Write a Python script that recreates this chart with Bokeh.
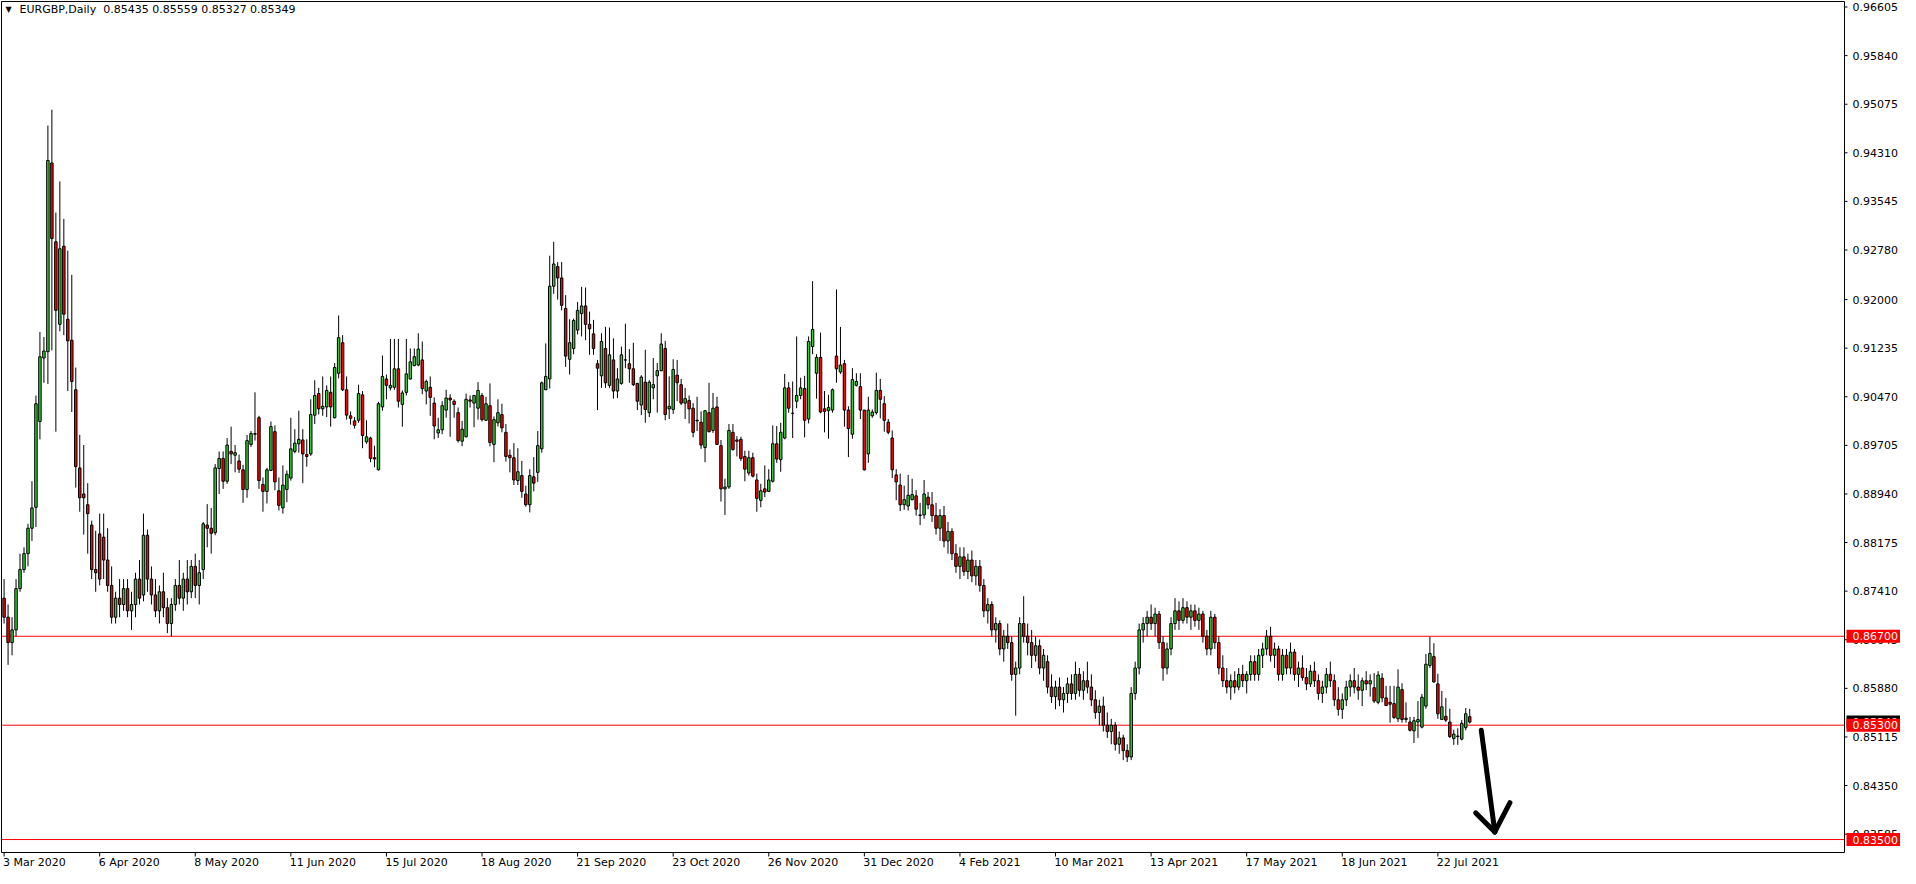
import numpy as np
from bokeh.plotting import figure
from bokeh.models import Range1d, ColumnDataSource
from bokeh.core.properties import value
from bokeh.embed import file_html
from bokeh.resources import INLINE

SYMBOL = "EURGBP,Daily"
HEADER_VALUES = "0.85435 0.85559 0.85327 0.85349"

# Daily candles from 3 Mar 2020 (bar 0) to 3 Aug 2021 (bar 368), prices x 10000
OPEN = [
    8730, 8700, 8660, 8680, 8745, 8775, 8800, 8840, 8873, 9008,
    9108, 9118, 9415, 9291, 9161, 9284, 9169, 9136, 9058, 8935,
    8894, 8877, 8845, 8775, 8831, 8826, 8790, 8750, 8700, 8730,
    8720, 8745, 8710, 8720, 8760, 8735, 8829, 8760, 8735, 8710,
    8740, 8715, 8690, 8720, 8750, 8730, 8760, 8740, 8780, 8750,
    8775, 8845, 8840, 8833, 8934, 8950, 8914, 8961, 8955, 8946,
    8932, 8901, 8972, 8988, 9014, 8909, 8898, 8931, 8992, 8899,
    8872, 8901, 8919, 8961, 8973, 8979, 8956, 8957, 9018, 9052,
    9028, 9031, 9054, 9014, 9084, 9132, 9058, 9017, 9009, 9010,
    9050, 8976, 8982, 8951, 8932, 9031, 9075, 9061, 9062, 9091,
    9035, 9054, 9075, 9096, 9097, 9105, 9056, 9062, 9037, 8990,
    8995, 9026, 9045, 9040, 9022, 8977, 8984, 9042, 9037, 9029,
    9049, 9010, 9033, 8972, 9006, 9019, 8991, 8955, 8951, 8915,
    8923, 8894, 8877, 8921, 8928, 8965, 9058, 9075, 9221, 9252,
    9234, 9186, 9106, 9123, 9152, 9178, 9190, 9161, 9146, 9099,
    9080, 9123, 9065, 9105, 9056, 9068, 9105, 9099, 9091, 9068,
    9034, 9070, 9022, 9061, 9080, 9088, 9123, 9028, 9027, 9081,
    9066, 9037, 9041, 9029, 9010, 9007, 8967, 9022, 8994, 9031,
    8970, 8902, 8905, 8991, 8979, 8980, 8953, 8927, 8951, 8916,
    8884, 8902, 8898, 8914, 8973, 8948, 8982, 9061, 9021, 9040,
    9049, 9060, 9012, 9126, 9084, 9109, 9028, 9025, 9026, 9111,
    9086, 9099, 9026, 8988, 9065, 9063, 9026, 8957, 9017, 9022,
    9057, 9036, 9007, 8982, 8924, 8908, 8877, 8875, 8885, 8891,
    8860, 8861, 8889, 8877, 8860, 8840, 8860, 8820, 8835, 8800,
    8780, 8795, 8772, 8790, 8765, 8780, 8750, 8710, 8720, 8680,
    8690, 8650, 8670, 8660, 8610, 8620, 8690, 8670, 8660, 8640,
    8655, 8620, 8630, 8590, 8575, 8590, 8570, 8580, 8595, 8580,
    8610, 8585, 8600, 8590, 8570, 8550, 8560, 8530, 8520, 8530,
    8500, 8510, 8490, 8480, 8580, 8620, 8680, 8690, 8700, 8690,
    8705, 8660, 8620, 8650, 8690, 8710, 8695, 8715, 8700, 8710,
    8695, 8705, 8670, 8650, 8700, 8660, 8620, 8600, 8590, 8600,
    8590, 8610, 8600, 8610, 8630, 8610, 8640, 8650, 8670, 8640,
    8650, 8610, 8640, 8620, 8645, 8610, 8620, 8605, 8595, 8615,
    8600, 8580, 8590, 8610, 8600, 8570, 8555, 8570, 8590, 8600,
    8590, 8585, 8600, 8595, 8589, 8566, 8604, 8573, 8566, 8564,
    8540, 8586, 8539, 8535, 8521, 8535, 8527, 8560, 8624, 8638,
    8595, 8539, 8544, 8535, 8509, 8513, 8508, 8526, 8543.5,
]
HIGH = [
    8760, 8720, 8700, 8760, 8800, 8810, 8847, 8914, 9049, 9149,
    9141, 9474, 9499, 9337, 9386, 9327, 9277, 9239, 9093, 8987,
    8971, 8911, 8852, 8836, 8863, 8863, 8840, 8780, 8740, 8760,
    8760, 8760, 8740, 8770, 8790, 8863, 8838, 8780, 8760, 8750,
    8770, 8730, 8730, 8760, 8790, 8770, 8790, 8790, 8800, 8790,
    8850, 8878, 8872, 8941, 8961, 8961, 8982, 9000, 8971, 8956,
    8940, 8987, 8993, 9054, 9017, 8920, 8935, 9008, 9002, 8920,
    8939, 8931, 9014, 8996, 9025, 8996, 8980, 9043, 9073, 9061,
    9079, 9065, 9079, 9100, 9175, 9144, 9079, 9024, 9015, 9066,
    9056, 9010, 8984, 8970, 9039, 9112, 9082, 9138, 9138, 9138,
    9057, 9138, 9123, 9123, 9147, 9134, 9074, 9079, 9046, 9014,
    9040, 9058, 9051, 9043, 9030, 9009, 9052, 9049, 9050, 9070,
    9053, 9047, 9068, 9016, 9043, 9036, 9004, 8964, 8974, 8966,
    8946, 8907, 8933, 8952, 8993, 9071, 9131, 9269, 9291, 9259,
    9259, 9207, 9169, 9170, 9196, 9220, 9219, 9181, 9168, 9105,
    9147, 9157, 9156, 9139, 9092, 9126, 9162, 9122, 9132, 9069,
    9081, 9121, 9073, 9108, 9100, 9147, 9135, 9079, 9106, 9105,
    9075, 9061, 9049, 9037, 9047, 9024, 9026, 9069, 9053, 9047,
    8979, 8918, 9004, 9004, 8985, 8984, 8962, 8962, 8959, 8926,
    8910, 8939, 8933, 9002, 9001, 9006, 9083, 9070, 9071, 9142,
    9077, 9080, 9142, 9229, 9114, 9148, 9056, 9050, 9060, 9216,
    9157, 9105, 9032, 9092, 9084, 9084, 9026, 9047, 9027, 9085,
    9075, 9048, 9012, 8994, 8933, 8926, 8907, 8924, 8918, 8900,
    8880, 8916, 8897, 8897, 8880, 8870, 8875, 8850, 8840, 8815,
    8810, 8810, 8800, 8805, 8790, 8790, 8760, 8730, 8725, 8700,
    8695, 8680, 8690, 8670, 8630, 8700, 8733, 8690, 8680, 8670,
    8665, 8650, 8640, 8610, 8600, 8605, 8590, 8605, 8610, 8630,
    8620, 8615, 8630, 8610, 8585, 8570, 8575, 8550, 8540, 8535,
    8520, 8515, 8500, 8590, 8630, 8690, 8700, 8710, 8720, 8715,
    8710, 8670, 8660, 8700, 8730, 8725, 8730, 8725, 8720, 8720,
    8715, 8710, 8680, 8710, 8705, 8670, 8640, 8620, 8610, 8615,
    8620, 8625, 8615, 8640, 8640, 8650, 8660, 8680, 8685, 8660,
    8655, 8650, 8650, 8660, 8650, 8630, 8640, 8620, 8625, 8630,
    8610, 8600, 8620, 8630, 8610, 8590, 8580, 8600, 8610, 8620,
    8610, 8605, 8615, 8610, 8612, 8615, 8612, 8592, 8592, 8592,
    8618, 8596, 8566, 8543, 8543, 8568, 8579, 8642, 8669, 8659,
    8611, 8584, 8573, 8556, 8523, 8525, 8538, 8557, 8555.9,
]
LOW = [
    8690, 8625, 8640, 8670, 8740, 8770, 8780, 8820, 8842, 8980,
    9069, 9067, 9120, 8992, 9150, 9144, 9056, 9023, 8904, 8866,
    8830, 8800, 8760, 8740, 8750, 8760, 8740, 8690, 8690, 8700,
    8710, 8700, 8680, 8700, 8720, 8725, 8740, 8720, 8700, 8690,
    8700, 8675, 8670, 8710, 8720, 8710, 8720, 8730, 8730, 8720,
    8760, 8810, 8800, 8829, 8894, 8902, 8910, 8941, 8928, 8927,
    8880, 8888, 8968, 8978, 8902, 8866, 8879, 8930, 8900, 8868,
    8863, 8881, 8915, 8958, 8959, 8911, 8937, 8954, 9004, 9019,
    9017, 9015, 9000, 9013, 9076, 9056, 9011, 9003, 8997, 9006,
    8966, 8973, 8944, 8936, 8931, 9025, 9043, 9057, 9058, 9030,
    9000, 9049, 9074, 9095, 9095, 9051, 9035, 9017, 8980, 8982,
    8988, 9014, 8984, 9014, 8975, 8969, 8983, 9030, 8999, 9011,
    9008, 9009, 8969, 8944, 9000, 8991, 8945, 8928, 8908, 8908,
    8888, 8874, 8865, 8898, 8913, 8959, 9058, 9060, 9209, 9200,
    9183, 9094, 9082, 9114, 9145, 9142, 9136, 9113, 9113, 9026,
    9061, 9061, 9061, 9044, 9045, 9066, 9092, 9069, 9064, 9026,
    9018, 9006, 9015, 9043, 9022, 9087, 9010, 9012, 9020, 9040,
    9034, 9012, 9005, 8983, 8993, 8965, 8944, 8991, 8990, 8972,
    8882, 8861, 8902, 8962, 8953, 8946, 8914, 8923, 8920, 8866,
    8873, 8889, 8897, 8912, 8943, 8929, 8980, 9022, 8982, 9029,
    9043, 8983, 9005, 9114, 9044, 9021, 8991, 8981, 9022, 9069,
    9083, 9000, 8952, 8981, 9063, 9012, 8931, 8943, 9014, 9019,
    9013, 8992, 8988, 8919, 8884, 8867, 8869, 8868, 8884, 8860,
    8845, 8855, 8870, 8850, 8830, 8820, 8810, 8800, 8790, 8770,
    8760, 8765, 8760, 8755, 8750, 8740, 8700, 8690, 8670, 8660,
    8640, 8630, 8650, 8600, 8545, 8610, 8660, 8640, 8620, 8630,
    8610, 8600, 8580, 8565, 8555, 8560, 8550, 8565, 8570, 8570,
    8575, 8570, 8580, 8560, 8540, 8530, 8520, 8510, 8500, 8490,
    8485, 8475, 8472, 8475, 8570, 8610, 8660, 8670, 8680, 8670,
    8650, 8600, 8610, 8640, 8680, 8680, 8690, 8690, 8680, 8685,
    8680, 8660, 8640, 8640, 8650, 8610, 8590, 8580, 8570, 8580,
    8585, 8590, 8580, 8600, 8600, 8600, 8620, 8640, 8630, 8620,
    8600, 8600, 8610, 8610, 8600, 8590, 8600, 8585, 8590, 8590,
    8570, 8565, 8580, 8590, 8560, 8545, 8540, 8560, 8575, 8580,
    8570, 8560, 8585, 8575, 8565, 8563, 8566, 8560, 8534, 8540,
    8535, 8534, 8534, 8520, 8502, 8510, 8525, 8556, 8620, 8597,
    8540, 8538, 8535, 8510, 8499, 8499, 8506, 8522, 8532.7,
]
CLOSE = [
    8700, 8660, 8680, 8745, 8775, 8800, 8840, 8872, 9036, 9110,
    9119, 9419, 9296, 9183, 9280, 9177, 9135, 9071, 8937, 8888,
    8888, 8863, 8775, 8770, 8760, 8790, 8750, 8700, 8730, 8720,
    8745, 8710, 8720, 8760, 8730, 8829, 8760, 8735, 8710, 8740,
    8715, 8690, 8720, 8750, 8730, 8760, 8740, 8780, 8750, 8770,
    8847, 8840, 8832, 8935, 8950, 8914, 8971, 8957, 8959, 8933,
    8901, 8978, 8989, 8989, 8915, 8898, 8932, 9000, 8913, 8876,
    8908, 8925, 8965, 8974, 8980, 8957, 8953, 9019, 9049, 9028,
    9032, 9057, 9031, 9093, 9140, 9058, 9018, 9013, 9002, 9052,
    8986, 8984, 8950, 8949, 9036, 9079, 9065, 9065, 9091, 9040,
    9053, 9083, 9102, 9110, 9122, 9060, 9071, 9046, 9001, 8995,
    9033, 9045, 9042, 9035, 8978, 8996, 9043, 9040, 9049, 9057,
    9011, 9036, 8975, 9011, 9022, 8998, 8953, 8951, 8916, 8929,
    8898, 8877, 8923, 8911, 8970, 9069, 9079, 9221, 9256, 9234,
    9191, 9111, 9132, 9167, 9183, 9190, 9161, 9154, 9123, 9092,
    9134, 9069, 9113, 9056, 9075, 9113, 9105, 9091, 9066, 9040,
    9078, 9027, 9070, 9066, 9088, 9130, 9019, 9032, 9090, 9069,
    9037, 9044, 9028, 8991, 9009, 8971, 9025, 8992, 9029, 8972,
    8902, 8905, 8994, 8964, 8977, 8950, 8933, 8951, 8922, 8887,
    8899, 8897, 8916, 8973, 8949, 8991, 9061, 9029, 9021, 9049,
    9061, 9010, 9134, 9153, 9109, 9023, 9024, 9030, 9058, 9091,
    9097, 9026, 8997, 9074, 9071, 9026, 8932, 9026, 9023, 9057,
    9043, 9010, 8991, 8932, 8913, 8877, 8885, 8892, 8893, 8870,
    8861, 8894, 8877, 8860, 8840, 8860, 8820, 8835, 8800, 8780,
    8795, 8772, 8790, 8765, 8780, 8750, 8710, 8720, 8680, 8690,
    8650, 8670, 8660, 8610, 8620, 8690, 8670, 8660, 8640, 8655,
    8620, 8640, 8590, 8575, 8590, 8570, 8580, 8595, 8580, 8610,
    8585, 8600, 8590, 8570, 8550, 8560, 8530, 8520, 8530, 8500,
    8510, 8490, 8480, 8580, 8620, 8680, 8690, 8700, 8690, 8705,
    8660, 8620, 8650, 8690, 8710, 8695, 8715, 8700, 8710, 8695,
    8705, 8670, 8650, 8700, 8660, 8620, 8600, 8590, 8600, 8590,
    8610, 8600, 8610, 8630, 8610, 8640, 8650, 8670, 8640, 8650,
    8610, 8640, 8620, 8645, 8610, 8620, 8605, 8595, 8615, 8600,
    8580, 8590, 8610, 8600, 8570, 8555, 8570, 8590, 8600, 8590,
    8585, 8600, 8595, 8600, 8568, 8609, 8573, 8561, 8563, 8542,
    8590, 8539, 8541, 8522, 8537, 8539, 8574, 8626, 8643, 8598,
    8548, 8559, 8538, 8512, 8516, 8512, 8533, 8548, 8534.9,
]

DATE_TICK_BARS = [0, 24, 48, 72, 96, 120, 144, 168, 192, 216, 240, 264, 288, 312, 336, 360]
DATE_LABELS = ["3 Mar 2020", "6 Apr 2020", "8 May 2020", "11 Jun 2020", "15 Jul 2020",
               "18 Aug 2020", "21 Sep 2020", "23 Oct 2020", "26 Nov 2020", "31 Dec 2020",
               "4 Feb 2021", "10 Mar 2021", "13 Apr 2021", "17 May 2021", "18 Jun 2021",
               "22 Jul 2021"]
PRICE_TICKS = [0.96605, 0.95840, 0.95075, 0.94310, 0.93545, 0.92780, 0.92000, 0.91235,
               0.90470, 0.89705, 0.88940, 0.88175, 0.87410, 0.86645, 0.85880, 0.85115,
               0.84350, 0.83585]
LEVELS = [0.86700, 0.85300, 0.83500]
CURRENT_PRICE = 0.85349

# hand-drawn arrow (bar index, price)
ARROW_SHAFT = [(370.9, 0.8522), (374.3, 0.8362)]
ARROW_LEFT = [(369.5, 0.8392), (374.3, 0.8362)]
ARROW_RIGHT = [(378.1, 0.8408), (374.3, 0.8362)]

# visible window of the chart: bars at left border / right price scale, prices at top / time scale
X_LEFT, X_AXIS = -0.65, 462.1
Y_TOP, Y_AXIS = 0.96692, 0.83296

UP = "#32CD32"
DOWN = "#FF0000"
LEVEL_COLOR = "#FF0000"
FONT = "DejaVu Sans"
FS = "11px"
BODY_WIDTH = 0.62

# page layout (pixels)
FIG_W, FIG_H = 1900, 868
FIG_L = FIG_T = 8
FRAME_L = FRAME_T = 9
AXIS_XPX, AXIS_YPX = 1852, 860

PXX = (X_AXIS - X_LEFT) / (AXIS_XPX - FRAME_L)
PXY = (Y_TOP - Y_AXIS) / (AXIS_YPX - FRAME_T)

o = np.array(OPEN) / 10000
h = np.array(HIGH) / 10000
l = np.array(LOW) / 10000
c = np.array(CLOSE) / 10000
idx = np.arange(len(o))

src = ColumnDataSource(dict(
    x=idx, high=h, low=l,
    top=np.maximum(o, c), bottom=np.minimum(o, c),
    color=[UP if cc >= oo else DOWN for oo, cc in zip(o, c)],
))

p = figure(width=FIG_W, height=FIG_H, output_backend="svg", toolbar_location=None,
           x_range=Range1d(X_LEFT - (FRAME_L - FIG_L) * PXX,
                           X_AXIS + (FIG_L + FIG_W - AXIS_XPX) * PXX),
           y_range=Range1d(Y_AXIS - (FIG_T + FIG_H - AXIS_YPX) * PXY,
                           Y_TOP + (FRAME_T - FIG_T) * PXY),
           x_axis_type=None, y_axis_type=None, min_border=0)
p.grid.visible = False
p.outline_line_color = None
p.background_fill_color = "white"
p.border_fill_color = "white"

# horizontal levels
p.segment(x0=[X_LEFT] * len(LEVELS), y0=LEVELS, x1=[X_AXIS] * len(LEVELS), y1=LEVELS,
          line_color=LEVEL_COLOR, line_width=1)

# candles
p.segment(x0="x", y0="high", x1="x", y1="low", source=src, line_color="black", line_width=1)
p.vbar(x="x", width=BODY_WIDTH, top="top", bottom="bottom", source=src,
       fill_color="color", line_color="black", line_width=1)

# arrow
for seg in (ARROW_SHAFT, ARROW_LEFT, ARROW_RIGHT):
    p.line([seg[0][0], seg[1][0]], [seg[0][1], seg[1][1]], line_color="black",
           line_width=5, line_cap="round")

# chart border with price scale (right) and time scale (bottom)
p.line([X_LEFT, X_AXIS, X_AXIS, X_LEFT, X_LEFT], [Y_TOP, Y_TOP, Y_AXIS, Y_AXIS, Y_TOP],
       line_color="black", line_width=1)

# time scale
n_d = len(DATE_TICK_BARS)
p.segment(x0=DATE_TICK_BARS, y0=[Y_AXIS] * n_d, x1=DATE_TICK_BARS,
          y1=[Y_AXIS - 4 * PXY] * n_d, line_color="black", line_width=1)
p.text(x=DATE_TICK_BARS, y=[Y_AXIS] * n_d, text=DATE_LABELS, x_offset=-1, y_offset=10,
       text_font=value(FONT), text_font_size=value(FS), text_color="black",
       text_align="left", text_baseline="middle")

# price scale
n_p = len(PRICE_TICKS)
p.segment(x0=[X_AXIS] * n_p, y0=PRICE_TICKS, x1=[X_AXIS + 3 * PXX] * n_p, y1=PRICE_TICKS,
          line_color="black", line_width=1)
p.text(x=[X_AXIS] * n_p, y=PRICE_TICKS, text=[f"{t:.5f}" for t in PRICE_TICKS],
       x_offset=8, y_offset=0, text_font=value(FONT), text_font_size=value(FS),
       text_color="black", text_align="left", text_baseline="middle")


def price_tag(prices, color):
    n = len(prices)
    p.quad(left=[X_AXIS + 2 * PXX] * n, right=[X_AXIS + 57 * PXX] * n,
           top=[t + 6.5 * PXY for t in prices], bottom=[t - 6.5 * PXY for t in prices],
           fill_color=color, line_color=None)
    p.text(x=[X_AXIS] * n, y=prices, text=[f"{t:.5f}" for t in prices],
           x_offset=8, text_font=value(FONT), text_font_size=value(FS), text_color="white",
           text_align="left", text_baseline="middle")


# current price tag first, level tags drawn over it
price_tag([CURRENT_PRICE], "black")
price_tag(LEVELS, LEVEL_COLOR)

# header
p.text(x=[X_LEFT], y=[Y_TOP], text=["\u25BC"], x_offset=4, y_offset=3,
       text_font=value(FONT), text_font_size=value("8px"), text_color="black",
       text_align="left", text_baseline="top")
p.text(x=[X_LEFT], y=[Y_TOP], text=[SYMBOL + "\u00a0\u00a0" + HEADER_VALUES], x_offset=18,
       y_offset=1, text_font=value(FONT), text_font_size=value(FS), text_color="black",
       text_align="left", text_baseline="top")

open("out.html", "w").write(file_html(p, INLINE))
